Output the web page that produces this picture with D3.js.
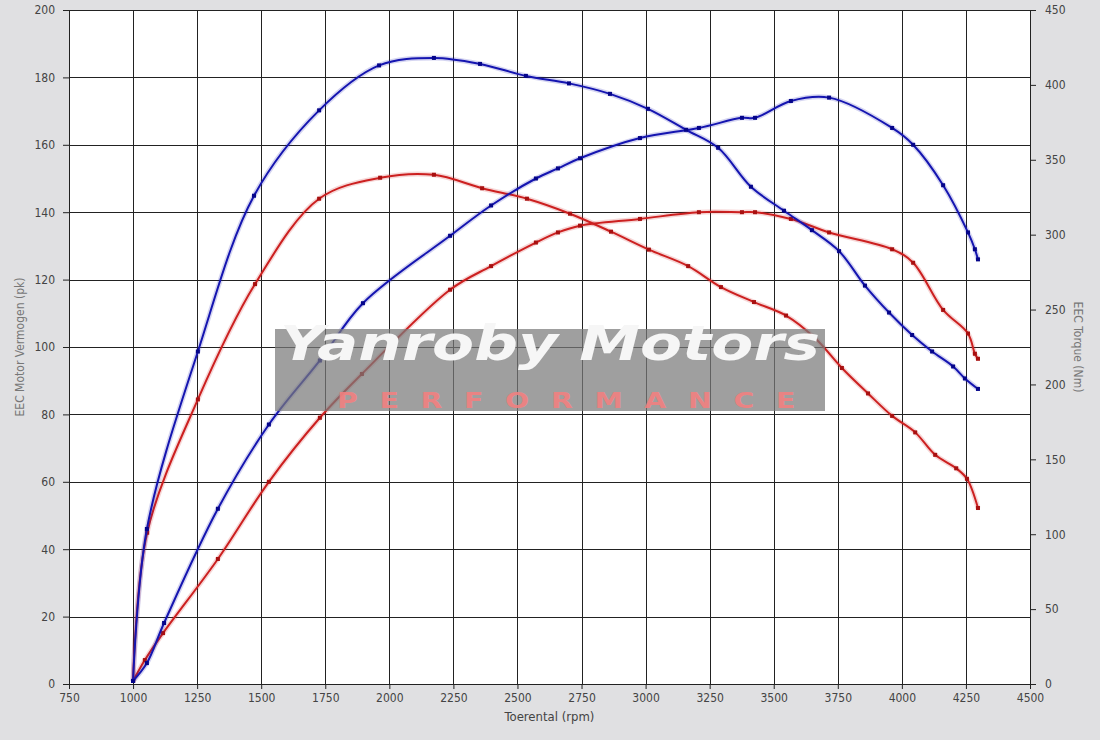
<!DOCTYPE html>
<html>
<head>
<meta charset="utf-8">
<script src="https://cdn.jsdelivr.net/npm/d3@7"></script>
<style>
  body { margin: 0; background: #e0e0e2; }
  svg text { font-family: "DejaVu Sans Condensed", "DejaVu Sans", sans-serif; }
</style>
</head>
<body>
<div id="chart"></div>
<script>
// data
const tunedPowerRpm = [1000, 1054, 1121, 1331, 1530, 1729, 1897, 2237, 2397, 2572, 2658, 2744, 2978, 3208, 3376, 3427, 3567, 3716, 3962, 4044, 4161, 4258, 4285, 4297];
const tunedPower    = [0.9, 6.2, 18.1, 52, 77, 96, 113, 133, 142, 150, 153, 156, 162, 165, 168, 168, 173, 174, 165, 160, 148, 134, 129, 126];

const stockPowerRpm = [1000, 1046, 1117, 1331, 1530, 1729, 1893, 2237, 2397, 2572, 2658, 2744, 2978, 3208, 3376, 3427, 3567, 3716, 3962, 4044, 4161, 4258, 4285, 4297];
const stockPower    = [0.9, 7.1, 15.1, 37.1, 60, 79, 92, 117, 124, 131, 134, 136, 138, 140, 140, 140, 138, 134, 129, 125, 111, 104, 98, 96.5];

const tunedTorqueRpm = [1000, 1054, 1253, 1472, 1726, 1960, 2174, 2354, 2533, 2701, 2861, 3009, 3158, 3283, 3411, 3540, 3649, 3755, 3856, 3950, 4040, 4118, 4200, 4246, 4297];
const tunedTorque    = [2, 103.5, 222, 326, 383, 413, 418, 414, 406, 401, 394, 384, 370, 358, 332, 316, 303, 289, 266, 248, 233, 222, 212, 204, 197];

const stockTorqueRpm = [1000, 1055, 1253, 1476, 1726, 1964, 2174, 2362, 2537, 2705, 2865, 3013, 3166, 3294, 3423, 3548, 3661, 3766, 3868, 3962, 4052, 4130, 4212, 4254, 4297];
const stockTorque    = [2, 101, 190, 267, 324, 338, 340, 331, 324, 314, 302, 290, 279, 265, 255, 246, 231, 211, 194, 179, 168, 153, 144, 137, 117.5];

const xTicks     = [750, 1000, 1250, 1500, 1750, 2000, 2250, 2500, 2750, 3000, 3250, 3500, 3750, 4000, 4250, 4500];
const leftTicks  = [0, 20, 40, 60, 80, 100, 120, 140, 160, 180, 200];
const rightTicks = [0, 50, 100, 150, 200, 250, 300, 350, 400, 450];

// layout
const width = 1100, height = 740;
const margin = { top: 10, right: 70, bottom: 56, left: 69 };
const w = width - margin.left - margin.right;
const h = height - margin.top - margin.bottom;

const blue = "#1515b0", blueDark = "#05058a";
const red = "#cc2020", redDark = "#a81010";

const svg = d3.select("#chart")
  .append("svg")
  .attr("width", width)
  .attr("height", height);

svg.append("rect")
  .attr("width", width)
  .attr("height", height)
  .attr("fill", "#e0e0e2");

const g = svg.append("g")
  .attr("transform", `translate(${margin.left},${margin.top})`);

// scales
const x = d3.scaleLinear().domain([750, 4500]).range([0, w]);
const yLeft = d3.scaleLinear().domain([0, 200]).range([h, 0]);
const yRight = d3.scaleLinear().domain([0, 450]).range([h, 0]);

g.append("rect")
  .attr("width", w)
  .attr("height", h)
  .attr("fill", "#ffffff");

// grid
g.selectAll(".vgrid")
  .data(xTicks)
  .enter()
  .append("line")
  .attr("x1", (d) => Math.round(x(d)) + 0.5)
  .attr("x2", (d) => Math.round(x(d)) + 0.5)
  .attr("y1", 0)
  .attr("y2", h)
  .attr("stroke", "#222")
  .attr("stroke-width", 1);

g.selectAll(".hgrid")
  .data(leftTicks)
  .enter()
  .append("line")
  .attr("x1", 0)
  .attr("x2", w)
  .attr("y1", (d) => Math.round(yLeft(d)) + 0.5)
  .attr("y2", (d) => Math.round(yLeft(d)) + 0.5)
  .attr("stroke", "#222")
  .attr("stroke-width", 1);

// curves
function drawSeries(rpm, vals, yScale, color, markColor) {
  const pts = rpm.map((r, i) => [x(r), yScale(vals[i])]);
  const line = d3.line().curve(d3.curveCatmullRom.alpha(0.5));
  g.append("path")
    .attr("d", line(pts))
    .attr("fill", "none")
    .attr("stroke", color)
    .attr("stroke-opacity", 0.18)
    .attr("stroke-width", 5);
  g.append("path")
    .attr("d", line(pts))
    .attr("fill", "none")
    .attr("stroke", color)
    .attr("stroke-width", 2);
  g.selectAll(null)
    .data(pts)
    .enter()
    .append("rect")
    .attr("x", (d) => d[0] - 2)
    .attr("y", (d) => d[1] - 2)
    .attr("width", 4)
    .attr("height", 4)
    .attr("fill", markColor);
}

drawSeries(stockPowerRpm, stockPower, yLeft, red, redDark);
drawSeries(stockTorqueRpm, stockTorque, yRight, red, redDark);
drawSeries(tunedPowerRpm, tunedPower, yLeft, blue, blueDark);
drawSeries(tunedTorqueRpm, tunedTorque, yRight, blue, blueDark);

// watermark
const wm = svg.append("g");
wm.append("rect")
  .attr("x", 275)
  .attr("y", 329)
  .attr("width", 550)
  .attr("height", 82)
  .attr("fill", "#7a7a7a")
  .attr("fill-opacity", 0.72);
wm.append("text")
  .attr("x", 280)
  .attr("y", 360)
  .attr("textLength", 540)
  .attr("lengthAdjust", "spacingAndGlyphs")
  .attr("font-size", 48)
  .attr("font-weight", "bold")
  .attr("font-style", "italic")
  .attr("fill", "#f6f6f6")
  .style("font-family", "'DejaVu Sans', sans-serif")
  .text("Yanroby Motors");
wm.append("text")
  .attr("x", 337)
  .attr("y", 408)
  .attr("textLength", 480)
  .attr("lengthAdjust", "spacingAndGlyphs")
  .attr("font-size", 21)
  .attr("font-weight", "bold")
  .attr("letter-spacing", 16)
  .attr("fill", "#f48080")
  .attr("fill-opacity", 0.9)
  .style("font-family", "'DejaVu Sans', sans-serif")
  .text("PERFORMANCE");

// axes
const fmt = (d) => String(d);
const xAxis = d3.axisBottom(x).tickValues(xTicks).tickFormat(fmt).tickSize(5).tickPadding(4).tickSizeOuter(0);
const leftAxis = d3.axisLeft(yLeft).tickValues(leftTicks).tickFormat(fmt).tickSize(6).tickPadding(8).tickSizeOuter(0);
const rightAxis = d3.axisRight(yRight).tickValues(rightTicks).tickFormat(fmt).tickSize(6).tickPadding(9).tickSizeOuter(0);

function styleAxis(sel) {
  sel.select(".domain").attr("stroke", "#222");
  sel.selectAll(".tick line").attr("stroke", "#222");
  sel.selectAll(".tick text")
    .attr("fill", "#444")
    .attr("font-size", 12)
    .style("font-family", "'DejaVu Sans Condensed', 'DejaVu Sans', sans-serif");
}

g.append("g")
  .attr("transform", `translate(0,${h})`)
  .call(xAxis)
  .call(styleAxis);
g.append("g")
  .call(leftAxis)
  .call(styleAxis);
g.append("g")
  .attr("transform", `translate(${w},0)`)
  .call(rightAxis)
  .call(styleAxis);

// top border
g.append("line")
  .attr("x1", 0).attr("x2", w)
  .attr("y1", 0.5).attr("y2", 0.5)
  .attr("stroke", "#222");

// titles
svg.append("text")
  .attr("x", margin.left + w / 2)
  .attr("y", 721)
  .attr("text-anchor", "middle")
  .attr("font-size", 13)
  .attr("fill", "#444")
  .text("Toerental (rpm)");

svg.append("text")
  .attr("transform", `translate(24,${margin.top + h / 2}) rotate(-90)`)
  .attr("text-anchor", "middle")
  .attr("font-size", 12)
  .attr("fill", "#777")
  .text("EEC Motor Vermogen (pk)");

svg.append("text")
  .attr("transform", `translate(1074,${margin.top + h / 2}) rotate(90)`)
  .attr("text-anchor", "middle")
  .attr("font-size", 12)
  .attr("fill", "#777")
  .text("EEC Torque (Nm)");
</script>
</body>
</html>
